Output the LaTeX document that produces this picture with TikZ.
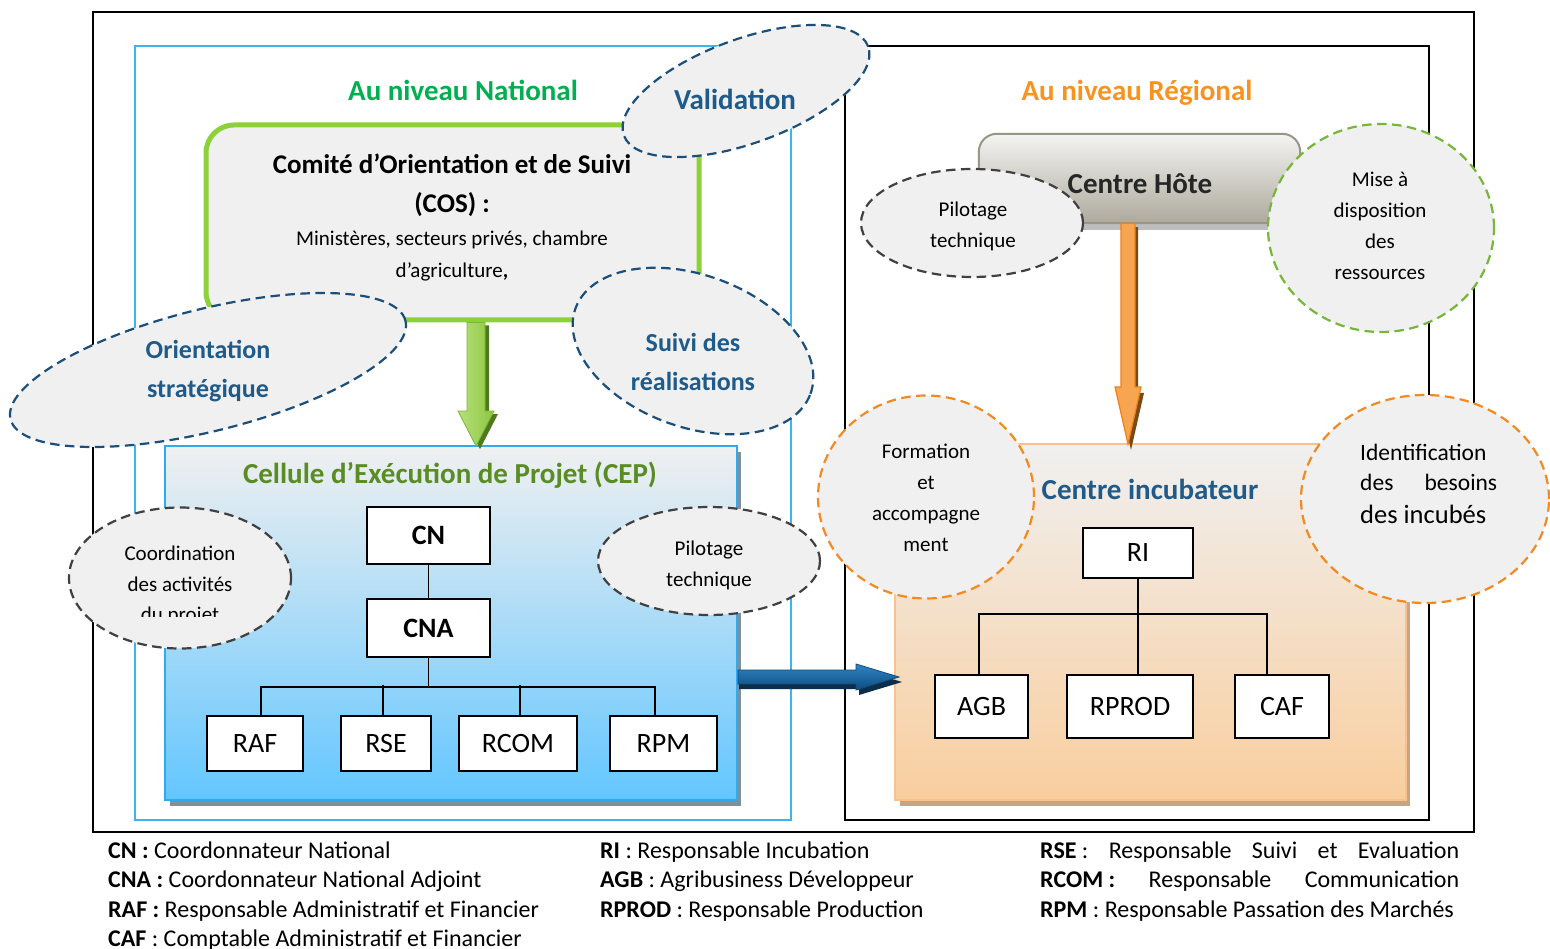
\documentclass[tikz,border=0pt]{standalone}
\usepackage{fontspec}
\setmainfont{Carlito}
\usetikzlibrary{shapes.geometric,calc}

\definecolor{ellfill}{HTML}{F0F0F0}
\definecolor{elblue}{HTML}{1B4F7A}
\definecolor{eltext}{HTML}{1E5B8A}
\definecolor{elgray}{HTML}{404040}
\definecolor{elgreen}{HTML}{77B53B}
\definecolor{elorange}{HTML}{F28A21}
\definecolor{framecyan}{HTML}{3CB4EE}
\definecolor{natgreen}{HTML}{00B050}
\definecolor{regorange}{HTML}{F7931E}
\definecolor{cosgreen}{HTML}{8DD13A}
\definecolor{ceptitle}{HTML}{5A8C24}
\definecolor{cepline}{HTML}{2DAAF0}
\definecolor{cepmid}{HTML}{C2E1F6}
\definecolor{cepbot}{HTML}{63C6FF}
\definecolor{cepshadow}{HTML}{7E909C}
\definecolor{inclline}{HTML}{FAC08F}
\definecolor{incmid}{HTML}{F3E4D8}
\definecolor{incbot}{HTML}{F9CE9E}
\definecolor{incshadow}{HTML}{C4A584}
\definecolor{hotetop}{HTML}{F4F4F2}
\definecolor{hotebot}{HTML}{ADA99C}
\definecolor{hoteline}{HTML}{9A9686}
\definecolor{hoteshadow}{HTML}{BDBDBD}
\definecolor{garrowlight}{HTML}{B6E07C}
\definecolor{garrowdark}{HTML}{8CC63F}
\definecolor{garrowline}{HTML}{7DB536}
\definecolor{garrowshadow}{HTML}{4E7A1E}
\definecolor{oarrowlight}{HTML}{F8A552}
\definecolor{oarrowdark}{HTML}{F38A1C}
\definecolor{oarrowline}{HTML}{EE8214}
\definecolor{oarrowshadow}{HTML}{7A4A16}
\definecolor{barrowtop}{HTML}{2E86C6}
\definecolor{barrowbot}{HTML}{0F4C7E}
\definecolor{barrowline}{HTML}{124A78}
\definecolor{barrowshadow}{HTML}{0A2E4C}

\newcommand\fsz[1]{\fontsize{#1}{#1}\selectfont}

% fat downward arrow: start, tip, shaft half width, head half width, head length
\newcommand\fatdown[5]{($(#1)+(-#3,0)$) -- ($(#1)+(#3,0)$) -- ($(#2)+(#3,-#5)$) -- ($(#2)+(#4,-#5)$) -- (#2) -- ($(#2)+(-#4,-#5)$) -- ($(#2)+(-#3,-#5)$) -- cycle}
% fat rightward arrow: start, tip, shaft half height, head half height, head length
\newcommand\fatright[5]{($(#1)+(0,-#3)$) -- ($(#2)+(-#5,-#3)$) -- ($(#2)+(-#5,-#4)$) -- (#2) -- ($(#2)+(-#5,#4)$) -- ($(#2)+(-#5,#3)$) -- ($(#1)+(0,#3)$) -- cycle}

\begin{document}
\begin{tikzpicture}[x=1pt,y=-1pt,
  ell/.style={ellipse, fill=ellfill, line width=2.2pt, dash pattern=on 9.5pt off 5.5pt, inner sep=0pt},
  orgbox/.style={draw=black, line width=1.8pt, fill=white, inner sep=0pt, font=\fsz{28}},
  txt/.style={anchor=base, inner sep=0pt},
  ltxt/.style={anchor=base west, inner sep=0pt, font=\fsz{24}},
  heading/.style={txt, font=\fsz{29}\bfseries},
  small/.style={txt, font=\fsz{21}},
  bigell/.style={txt, font=\fsz{26}\bfseries, text=eltext},
  orgline/.style={line width=1.6pt}
]
\useasboundingbox (0,0) rectangle (1550,949);
\fill[white] (0,0) rectangle (1550,949);

% frames
\draw[line width=1.8pt] (93,12) rectangle (1474,832);
\draw[framecyan, line width=1.6pt] (135,46) rectangle (791,820);
\draw[line width=1.6pt] (845,46) rectangle (1429,820);

% level headings
\node[heading, text=natgreen] (natl) at (463,101) {Au niveau National};
\node[heading, text=regorange] (regl) at (1137,101) {Au niveau Régional};

% steering committee
\node[draw=cosgreen, line width=5pt, fill=ellfill, rounded corners=28pt,
      minimum width=493pt, minimum height=195pt, inner sep=0pt] (cos) at (452.5,222.5) {};
\node[txt, font=\fsz{27}\bfseries] (cos1) at (452,174) {Comité d’Orientation et de Suivi};
\node[txt, font=\fsz{27}\bfseries] (cos2) at (452,213) {(COS) :};
\node[small] (cos3) at (452,246) {Ministères, secteurs privés, chambre};
\node[small] (cos4) at (452,278) {d’agriculture\textbf{,}};

% project execution unit
\fill[cepshadow] (170,452) rectangle (741,806);
\node[draw=cepline, line width=2pt, top color=ellfill, middle color=cepmid, bottom color=cepbot,
      minimum width=572pt, minimum height=354pt, inner sep=0pt] (cep) at (451,623) {};
\node[heading, text=ceptitle] (cept) at (450,483) {Cellule d’Exécution de Projet (CEP)};

% incubation centre
\fill[incshadow] (900,450) rectangle (1410,806);
\node[draw=inclline, line width=2pt, top color=ellfill, middle color=incmid, bottom color=incbot,
      minimum width=511pt, minimum height=356pt, inner sep=0pt] (inc) at (1150.5,622) {};
\node[heading, text=eltext] (inct) at (1150,499) {Centre incubateur};

% host centre
\node[minimum width=321pt, minimum height=89pt, inner sep=0pt] (hote) at (1139.5,178.5) {};
\fill[hoteshadow] (hote.south west) rectangle ($(hote.south east)+(0,7)$);
\shade[top color=hotetop, bottom color=hotebot, draw=hoteline, line width=2pt]
  (hote.south west) -- ([yshift=-18pt]hote.north west) arc[start angle=180, end angle=90, radius=18pt]
  -- ([xshift=-18pt]hote.north east) arc[start angle=90, end angle=0, radius=18pt] -- (hote.south east) -- cycle;
\node[heading, text=black!85] (hotet) at (1140,194) {Centre Hôte};

% CEP organisation chart
\node[orgbox, font=\fsz{28}\bfseries, minimum width=123pt, minimum height=57pt] (cn) at (428.5,535.5) {CN};
\node[orgbox, font=\fsz{28}\bfseries, minimum width=123pt, minimum height=58pt] (cna) at (428.5,628) {CNA};
\node[orgbox, minimum width=96pt, minimum height=55pt] (raf) at (255,743.5) {RAF};
\node[orgbox, minimum width=90pt, minimum height=55pt] (rse) at (386,743.5) {RSE};
\node[orgbox, minimum width=118pt, minimum height=55pt] (rcom) at (518,743.5) {RCOM};
\node[orgbox, minimum width=107pt, minimum height=55pt] (rpm) at (663.5,743.5) {RPM};
\draw[orgline] (cn) -- (cna);
\draw[orgline] (cna.south) -- ++(0,29) coordinate (lbus);
\draw[orgline] ([xshift=6pt]raf.north) |- (lbus) -| ([xshift=-8.5pt]rpm.north);
\draw[orgline] ([xshift=-3pt]rse.north) -- ++(0,-30);
\draw[orgline] ([xshift=2pt]rcom.north) -- ++(0,-30);

% incubator organisation chart
\node[orgbox, minimum width=110pt, minimum height=50pt] (ri) at (1138,553) {RI};
\node[orgbox, minimum width=93pt, minimum height=63pt] (agb) at (981.5,706.5) {AGB};
\node[orgbox, minimum width=126pt, minimum height=63pt] (rprod) at (1130,706.5) {RPROD};
\node[orgbox, minimum width=94pt, minimum height=63pt] (caf) at (1282,706.5) {CAF};
\draw[orgline] (ri.south) -- (ri.south |- rprod.north);
\draw[orgline] ([xshift=-2.5pt]agb.north) -- ++(0,-60) -| ([xshift=-15pt]caf.north);

% COS -> CEP
\coordinate (g0) at ([xshift=23.5pt]cos.south);
\coordinate (g1) at ([xshift=25pt,yshift=-1pt]cep.north);
\coordinate (g0s) at ($(g0)+(4,3)$);
\coordinate (g1s) at ($(g1)+(4,3)$);
\fill[garrowshadow] \fatdown{g0s}{g1s}{9}{18}{35};
\shade[left color=garrowlight, right color=garrowdark, draw=garrowline, line width=0.8pt] \fatdown{g0}{g1}{9}{18}{35};

% host centre -> incubator
\coordinate (o0) at ([xshift=-11.5pt]hote.south);
\coordinate (o1) at ([xshift=-22.5pt,yshift=-1pt]inc.north);
\coordinate (o0s) at ($(o0)+(3,4)$);
\coordinate (o1s) at ($(o1)+(3,6)$);
\fill[oarrowshadow] \fatdown{o0s}{o1s}{7}{13}{57};
\shade[top color=oarrowlight, middle color=oarrowdark, bottom color=oarrowlight, draw=oarrowline, line width=1.2pt] \fatdown{o0}{o1}{7}{13}{57};

% CEP -> incubator
\coordinate (b0) at ([yshift=-54pt]cep.east);
\coordinate (b1) at ([xshift=5pt,yshift=-55pt]inc.west);
\coordinate (b0s) at ($(b0)+(1,5)$);
\coordinate (b1s) at ($(b1)+(3,5)$);
\fill[barrowshadow] \fatright{b0s}{b1s}{7}{13}{43};
\shade[top color=barrowtop, bottom color=barrowbot, draw=barrowline, line width=0.8pt] \fatright{b0}{b1}{7}{13}{43};

% national level roles
\node[ell, draw=elblue, rotate=20, minimum width=260pt, minimum height=104pt] (valid) at (746,91) {};
\node[txt, font=\fsz{29}\bfseries, text=eltext] (validt) at (735,110) {Validation};

\node[ell, draw=elblue, rotate=14, minimum width=407pt, minimum height=122pt] (orient) at (208,370) {};
\node[bigell] (orient1) at (208,359) {Orientation};
\node[bigell] (orient2) at (208,398) {stratégique};

\node[ell, draw=elblue, rotate=-20, minimum width=250pt, minimum height=152pt] (suivi) at (693,351) {};
\node[bigell] (suivi1) at (693,352) {Suivi des};
\node[bigell] (suivi2) at (693,391) {réalisations};

\node[ell, draw=elgray, minimum width=222pt, minimum height=141pt] (coord) at (180,578) {};
\node[small] (coord1) at (180,560) {Coordination};
\node[small] (coord2) at (180,591) {des activités};
\begin{scope}
  \clip (60,600) rectangle (300,616);
  \node[small] (coord3) at (180,621) {du projet};
\end{scope}

\node[ell, draw=elgray, minimum width=222pt, minimum height=108pt] (pilA) at (709,561) {};
\node[small] (pilA1) at (709,555) {Pilotage};
\node[small] (pilA2) at (709,586) {technique};

% regional level roles
\node[ell, draw=elgray, minimum width=222pt, minimum height=108pt] (pilB) at (972,223) {};
\node[small] (pilB1) at (973,217) {Pilotage};
\node[small] (pilB2) at (973,248) {technique};

\node[ell, draw=elgreen, minimum width=226pt, minimum height=208pt] (mise) at (1381,228) {};
\node[small] (mise1) at (1380,187) {Mise à};
\node[small] (mise2) at (1380,218) {disposition};
\node[small] (mise3) at (1380,249) {des};
\node[small] (mise4) at (1380,280) {ressources};

\node[ell, draw=elorange, minimum width=216pt, minimum height=203pt] (form) at (926,497) {};
\node[small] (form1) at (926,458) {Formation};
\node[small] (form2) at (926,489) {et};
\node[small] (form3) at (926,520) {accompagne};
\node[small] (form4) at (926,551) {ment};

\node[ell, draw=elorange, minimum width=248pt, minimum height=208pt] (ident) at (1425,499) {};
\node[txt, anchor=base west, font=\fsz{23.5}] (ident1) at (1360,460) {Identification};
\node[txt, anchor=base west, font=\fsz{23.5}] (ident2) at (1360,490) {\makebox[137pt][s]{des\hfill besoins}};
\node[txt, anchor=base west, font=\fsz{26.5}] (ident3) at (1360,523) {des incubés};

% legend
\node[ltxt] (lg1) at (108,858) {\textbf{CN :} Coordonnateur National};
\node[ltxt] (lg2) at (108,887) {\textbf{CNA :} Coordonnateur National Adjoint};
\node[ltxt] (lg3) at (108,917) {\textbf{RAF :} Responsable Administratif et Financier};
\node[ltxt] (lg4) at (108,946) {\textbf{CAF} : Comptable Administratif et Financier};
\node[ltxt] (lg5) at (600,858) {\textbf{RI} : Responsable Incubation};
\node[ltxt] (lg6) at (600,887) {\textbf{AGB} : Agribusiness Développeur};
\node[ltxt] (lg7) at (600,917) {\textbf{RPROD} : Responsable Production};
\node[ltxt] (lg8) at (1040,858) {\makebox[419pt][s]{\textbf{RSE} :\hfill Responsable\hfill Suivi\hfill et\hfill Evaluation}};
\node[ltxt] (lg9) at (1040,887) {\makebox[419pt][s]{\textbf{RCOM :}\hfill Responsable\hfill Communication}};
\node[ltxt] (lg10) at (1040,917) {\textbf{RPM} : Responsable Passation des Marchés};
\end{tikzpicture}
\end{document}
